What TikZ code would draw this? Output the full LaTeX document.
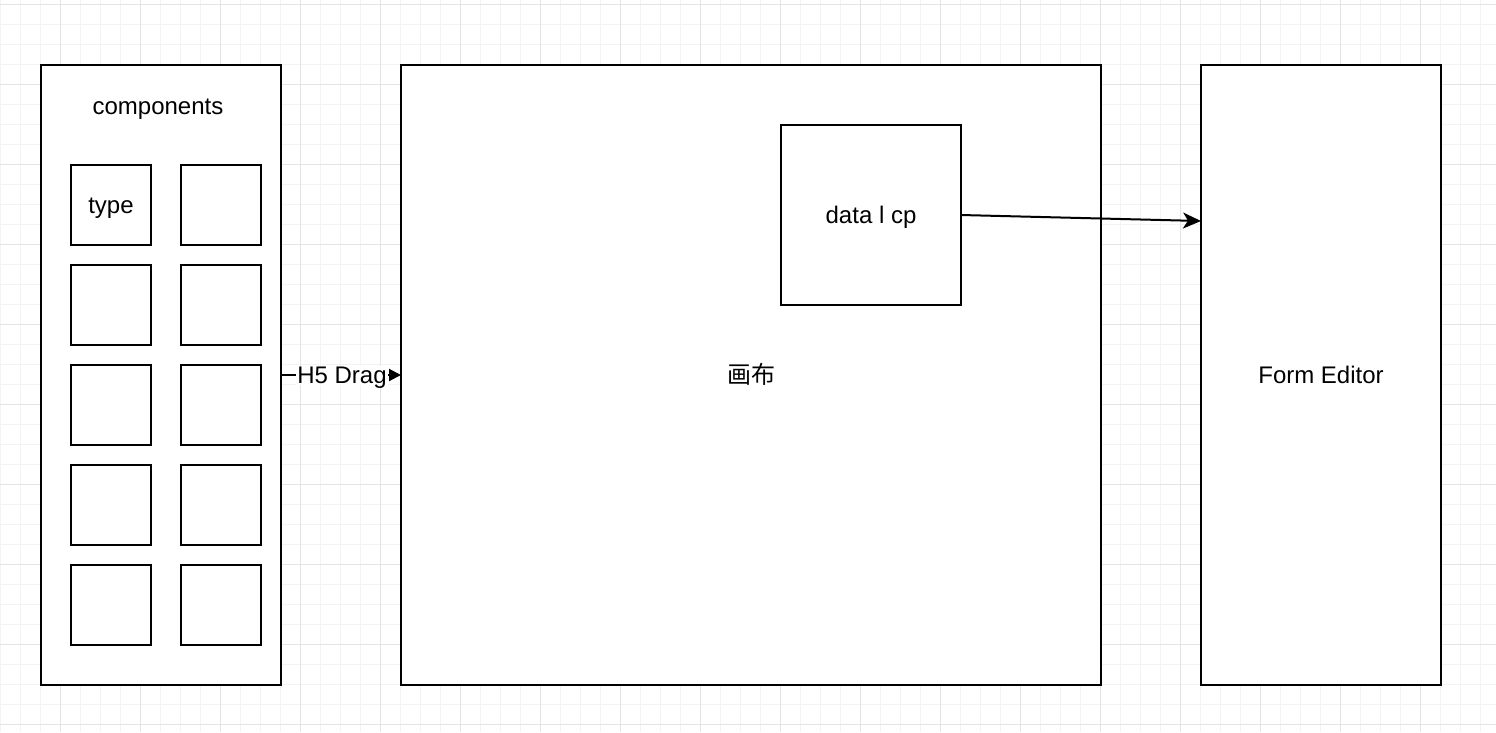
\documentclass[tikz,border=0pt]{standalone}
\usepackage{fontspec}
\setmainfont{Liberation Sans}
\newfontfamily\cjk{Noto Sans CJK SC}
\usetikzlibrary{arrows.meta}
\definecolor{gridminor}{HTML}{F3F3F3}
\definecolor{gridmajor}{HTML}{E4E4E4}
\begin{document}
\begin{tikzpicture}[x=1pt,y=-1pt,
  box/.style={draw=black,line width=2pt,fill=white,minimum width=#1,inner sep=0pt,outer sep=0pt},
  sq/.style={draw=black,line width=2pt,fill=white,minimum width=80pt,minimum height=80pt,inner sep=0pt,outer sep=0pt},
  lbl/.style={font=\fontsize{24}{28}\selectfont,inner sep=0pt,text height=17pt,text depth=0pt},
  conn/.style={line width=2pt}]
\useasboundingbox (0,0) rectangle (1496,732);
\fill[white] (0,0) rectangle (1496,732);
% grid
\foreach \x in {0,20,...,1480} \draw[gridminor,line width=1pt] (\x,0) -- (\x,732);
\foreach \y in {4,24,...,724} \draw[gridminor,line width=1pt] (0,\y) -- (1496,\y);
\foreach \x in {60,140,...,1460} \draw[gridmajor,line width=1pt] (\x,0) -- (\x,732);
\foreach \y in {4,84,...,724} \draw[gridmajor,line width=1pt] (0,\y) -- (1496,\y);
% containers
\node[box=240pt,minimum height=620pt] (comp) at (161,375) {};
\node[lbl] (comptxt) at (158,106) {components};
\node[box=700pt,minimum height=620pt,lbl] (canvas) at (751,375) {\cjk 画布};
\node[box=240pt,minimum height=620pt,lbl] (form) at (1321,375) {Form Editor};
\node[box=180pt,minimum height=180pt,lbl] (data) at (871,215) {data l cp};
% component squares
\node[sq,lbl] (c11) at (111,205) {type};
\node[sq] (c12) at (221,205) {};
\node[sq] (c21) at (111,305) {};
\node[sq] (c22) at (221,305) {};
\node[sq] (c31) at (111,405) {};
\node[sq] (c32) at (221,405) {};
\node[sq] (c41) at (111,505) {};
\node[sq] (c42) at (221,505) {};
\node[sq] (c51) at (111,605) {};
\node[sq] (c52) at (221,605) {};
% connectors
\draw[conn,-{Triangle[length=12pt,width=12pt]}] (comp.east |- 0,375) -- node[lbl,fill=white,inner sep=1pt,xshift=1pt]{H5 Drag} (canvas.west);
\coordinate (fein) at (form.west |- 0,221);
\draw[conn,-{Stealth[length=18pt,width=16pt,inset=5pt]}] (data.east) -- (fein);
\end{tikzpicture}
\end{document}
